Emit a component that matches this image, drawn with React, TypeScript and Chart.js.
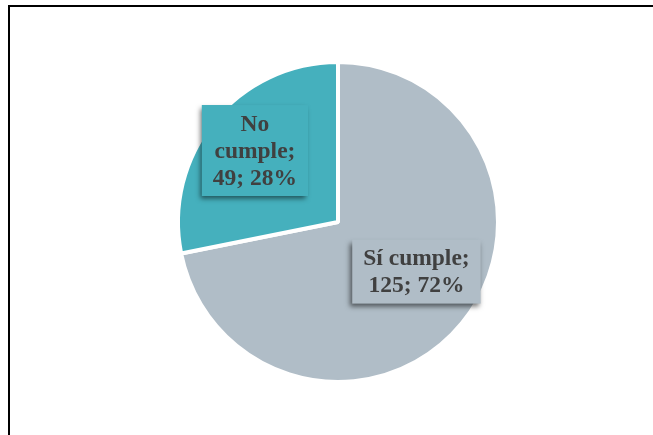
import React, { useEffect, useRef } from "react";
import { Chart, registerables } from "chart.js";

Chart.register(...registerables);

const categories = ["Sí cumple", "No cumple"];
const counts = [125, 49];
const percents = ["72%", "28%"];
const sliceColors = ["#B0BDC7", "#45B0BD"];

const labelPlugin = {
  id: "sliceLabels",
  beforeDraw(chart: any) {
    const ctx = chart.ctx;
    ctx.save();
    ctx.fillStyle = "#ffffff";
    ctx.fillRect(0, 0, chart.width, chart.height);
    ctx.fillStyle = "#000000";
    ctx.fillRect(8, 5, chart.width, 2);
    ctx.fillRect(8, 5, 2, chart.height);
    ctx.restore();
  },
  afterDraw(chart: any) {
    const ctx = chart.ctx;
    const meta = chart.getDatasetMeta(0);
    const tweaks = [
      { da: -7, f: 0.58, lines: (i: number) => [categories[i] + ";", counts[i] + "; " + percents[i]] },
      { da: 1.4, f: 0.685, lines: (i: number) => ["No", "cumple;", counts[i] + "; " + percents[i]] },
    ];
    ctx.save();
    ctx.font = "bold 23.5px 'Liberation Serif', 'Times New Roman', serif";
    const lh = 27;
    meta.data.forEach((arc: any, i: number) => {
      const t = tweaks[i];
      const mid = (arc.startAngle + arc.endAngle) / 2 + (t.da * Math.PI) / 180;
      const r = arc.outerRadius * t.f;
      const cx = arc.x + Math.cos(mid) * r;
      const cy = arc.y + Math.sin(mid) * r;
      const lines = t.lines(i);
      const w = Math.max(...lines.map((l: string) => ctx.measureText(l).width)) + 22;
      const h = lines.length * lh + 10;
      ctx.save();
      ctx.shadowColor = "rgba(0,0,0,0.55)";
      ctx.shadowBlur = 5;
      ctx.shadowOffsetX = -2;
      ctx.shadowOffsetY = 3;
      ctx.fillStyle = sliceColors[i];
      ctx.fillRect(cx - w / 2, cy - h / 2, w, h);
      ctx.restore();
      ctx.fillStyle = "#404040";
      ctx.textAlign = "center";
      ctx.textBaseline = "middle";
      lines.forEach((l: string, k: number) => {
        ctx.fillText(l, cx, cy - ((lines.length - 1) * lh) / 2 + k * lh + 1);
      });
    });
    ctx.restore();
  },
};

export default function App() {
  const ref = useRef<HTMLCanvasElement>(null);
  useEffect(() => {
    const chart = new Chart(ref.current!, {
      type: "pie",
      data: {
        labels: categories,
        datasets: [
          {
            data: counts,
            backgroundColor: sliceColors,
            borderColor: "#ffffff",
            borderWidth: 4,
          },
        ],
      },
      options: {
        animation: false,
        responsive: false,
        layout: { padding: { top: 60, bottom: 51, left: 176, right: 153 } },
        plugins: { legend: { display: false }, tooltip: { enabled: false } },
      },
      plugins: [labelPlugin],
    });
    return () => chart.destroy();
  }, []);
  return (
    <div style={{ position: "fixed", left: 0, top: 0, width: 653, height: 435 }}>
      <canvas ref={ref} width={653} height={435} style={{ width: 653, height: 435, display: "block" }} />
    </div>
  );
}
